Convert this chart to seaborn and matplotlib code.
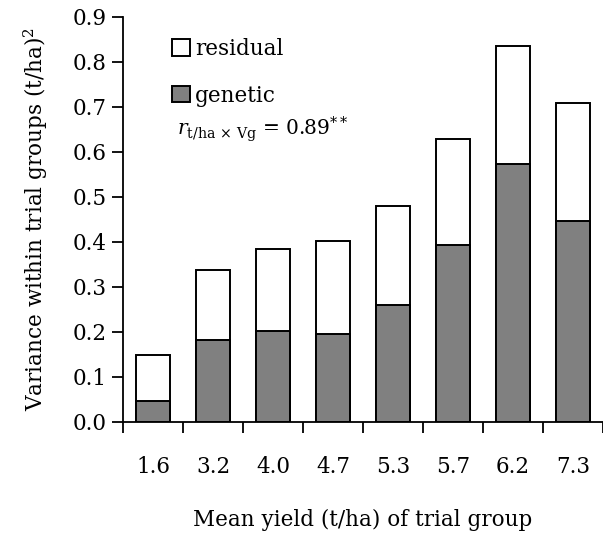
import matplotlib
matplotlib.use("Agg")
import matplotlib.pyplot as plt
from matplotlib.patches import Patch
from matplotlib.ticker import FixedLocator
import numpy as np
import pandas as pd
import seaborn as sns

categories = ["1.6", "3.2", "4.0", "4.7", "5.3", "5.7", "6.2", "7.3"]
genetic = [0.047, 0.181, 0.202, 0.195, 0.259, 0.393, 0.573, 0.446]
residual = [0.101, 0.156, 0.182, 0.207, 0.221, 0.235, 0.263, 0.263]
yticks = [0.0, 0.1, 0.2, 0.3, 0.4, 0.5, 0.6, 0.7, 0.8, 0.9]

sns.set_theme(style="ticks")
plt.rcParams["font.family"] = ["DejaVu Serif"]
plt.rcParams["mathtext.fontset"] = "dejavuserif"
plt.rcParams["text.color"] = "black"
plt.rcParams["axes.labelcolor"] = "black"
plt.rcParams["xtick.color"] = "black"
plt.rcParams["ytick.color"] = "black"

FS = 15.5

df = pd.DataFrame({
    "group": categories,
    "genetic": genetic,
    "total": np.array(genetic) + np.array(residual),
})

fig = plt.figure(figsize=(6.03, 5.36), dpi=100)
ax = fig.add_axes([123 / 603, 1 - 421.7 / 536, 480 / 603, (421.7 - 17) / 536])

sns.barplot(data=df, x="group", y="total", color="white", edgecolor="black",
            linewidth=1.4, width=0.58, saturation=1, ax=ax)
sns.barplot(data=df, x="group", y="genetic", color="#808080", edgecolor="black",
            linewidth=1.4, width=0.58, saturation=1, ax=ax)

ax.set_xlim(-0.5, len(categories) - 0.5)
ax.set_ylim(0, 0.9)
ax.set_yticks(yticks)
ax.set_yticklabels([f"{v:.1f}" for v in yticks], fontsize=FS)
ax.tick_params(axis="y", direction="out", length=8, width=1.3, pad=4)
ax.tick_params(axis="x", which="major", length=0, pad=25, labelsize=FS)
ax.xaxis.set_minor_locator(FixedLocator(np.arange(-0.5, len(categories) + 0.5, 1)))
ax.tick_params(axis="x", which="minor", direction="out", length=8, width=1.3)

for s in ["top", "right"]:
    ax.spines[s].set_visible(False)
for s in ["left", "bottom"]:
    ax.spines[s].set_linewidth(1.3)
    ax.spines[s].set_color("black")

ax.set_xlabel("Mean yield (t/ha) of trial group", fontsize=FS, labelpad=22)
ax.set_ylabel("Variance within trial groups (t/ha)$^2$", fontsize=FS, labelpad=16)

handles = [Patch(facecolor="white", edgecolor="black", linewidth=1.4),
           Patch(facecolor="#808080", edgecolor="black", linewidth=1.4)]
ax.legend(handles, ["residual", "genetic"], loc="upper left",
          bbox_to_anchor=(0.085, 0.97), frameon=False, fontsize=FS,
          handlelength=0.8, handleheight=0.8, handletextpad=0.25,
          labelspacing=1.15, borderaxespad=0)

ax.text(0.112, 0.722, r"$r_{\mathrm{t/ha\,\times\,Vg}}$ = 0.89$^{**}$",
        transform=ax.transAxes, fontsize=14.5, ha="left", va="center")

fig.savefig("out.png", dpi=100)
